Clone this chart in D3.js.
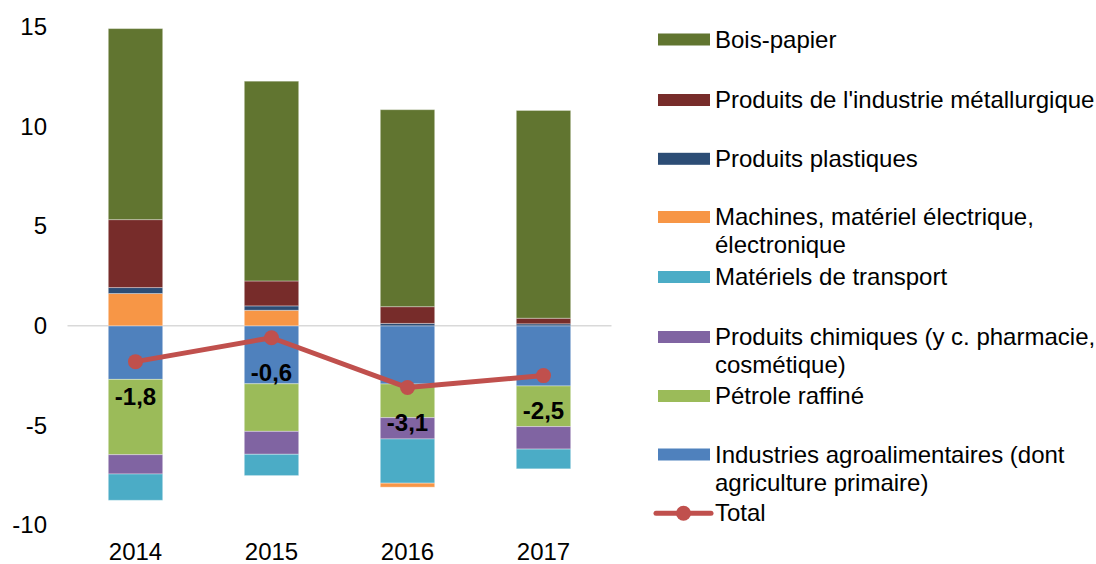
<!DOCTYPE html>
<html>
<head>
<meta charset="utf-8">
<script src="https://cdn.jsdelivr.net/npm/d3@7"></script>
<style>
  html, body { margin: 0; padding: 0; background: #fff; }
  svg { display: block; font-family: "Liberation Sans", Arial, sans-serif; }
</style>
</head>
<body>
<svg id="chart" width="1096" height="564"></svg>
<script>
// ---- Data ----
const years = ["2014", "2015", "2016", "2017"];
const seriesNames = [
  "Industries agroalimentaires (dont agriculture primaire)",
  "Pétrole raffiné",
  "Produits chimiques (y c. pharmacie, cosmétique)",
  "Matériels de transport",
  "Machines, matériel électrique, électronique",
  "Produits plastiques",
  "Produits de l'industrie métallurgique",
  "Bois-papier"
];
const agro        = [-2.69, -2.91, -2.92, -3.02];
const petrole     = [-3.78, -2.39, -1.69, -2.04];
const chimiques   = [-0.97, -1.15, -1.07, -1.13];
const transport   = [-1.32, -1.07, -2.22, -0.99];
const machines    = [1.62, 0.78, -0.20, 0.00];
const plastiques  = [0.30, 0.22, 0.12, 0.10];
const metallurgie = [3.41, 1.25, 0.84, 0.28];
const boisPapier  = [9.59, 10.03, 9.89, 10.43];
const total       = [-1.8, -0.6, -3.1, -2.5];
const yTicks      = [-10, -5, 0, 5, 10, 15];

// legend (top to bottom) with wrapped labels
const legendItems = [
  { key: "Bois-papier", lines: ["Bois-papier"] },
  { key: "Produits de l'industrie métallurgique", lines: ["Produits de l'industrie métallurgique"] },
  { key: "Produits plastiques", lines: ["Produits plastiques"] },
  { key: "Machines, matériel électrique, électronique", lines: ["Machines, matériel électrique,", "électronique"] },
  { key: "Matériels de transport", lines: ["Matériels de transport"] },
  { key: "Produits chimiques (y c. pharmacie, cosmétique)", lines: ["Produits chimiques (y c. pharmacie,", "cosmétique)"] },
  { key: "Pétrole raffiné", lines: ["Pétrole raffiné"] },
  { key: "Industries agroalimentaires (dont agriculture primaire)", lines: ["Industries agroalimentaires (dont", "agriculture primaire)"] },
  { key: "Total", lines: ["Total"] }
];

const colors = {
  "Industries agroalimentaires (dont agriculture primaire)": "#4f81bd",
  "Pétrole raffiné": "#9bbb59",
  "Produits chimiques (y c. pharmacie, cosmétique)": "#8064a2",
  "Matériels de transport": "#4bacc6",
  "Machines, matériel électrique, électronique": "#f79646",
  "Produits plastiques": "#2c4d75",
  "Produits de l'industrie métallurgique": "#772c2a",
  "Bois-papier": "#617530",
  "Total": "#c0504d"
};

const FS = 24;
const seriesValues = [agro, petrole, chimiques, transport, machines, plastiques, metallurgie, boisPapier];
const table = years.map((y, i) => {
  const row = { year: y };
  seriesNames.forEach((n, j) => row[n] = seriesValues[j][i]);
  return row;
});

// ---- Scales ----
const svg = d3.select("#chart");
const x = d3.scaleBand().domain(years).range([67.5, 611.5]).paddingInner(0.6).paddingOuter(0.3);
const y = d3.scaleLinear().domain([-10, 15]).range([525, 27]);

// Zero line
svg.append("line")
  .attr("x1", 67.5).attr("x2", 611.5)
  .attr("y1", y(0)).attr("y2", y(0))
  .attr("stroke", "#d9d9d9").attr("stroke-width", 1.5);

// Y axis (labels only)
const yAxis = d3.axisLeft(y).tickValues(yTicks).tickSize(0).tickPadding(0)
  .tickFormat(d => String(d));
const gy = svg.append("g").attr("transform", "translate(47,0)").call(yAxis);
gy.select(".domain").remove();
gy.selectAll("text").attr("font-size", FS).attr("fill", "#000")
  .attr("font-family", "Liberation Sans, Arial, sans-serif");

// X axis (labels only)
const xAxis = d3.axisBottom(x).tickSize(0).tickPadding(0);
const gx = svg.append("g").call(xAxis);
gx.select(".domain").remove();
gx.selectAll("text").attr("font-size", FS).attr("fill", "#000")
  .attr("dy", null).attr("y", 560)
  .attr("font-family", "Liberation Sans, Arial, sans-serif");

// Stacked bars
const stack = d3.stack().keys(seriesNames).offset(d3.stackOffsetDiverging);
const stacked = stack(table);
svg.append("g").selectAll("g")
  .data(stacked).join("g")
  .attr("fill", d => colors[d.key])
  .selectAll("rect")
  .data(d => d).join("rect")
  .attr("x", d => x(d.data.year))
  .attr("width", x.bandwidth())
  .attr("y", d => y(Math.max(d[0], d[1])))
  .attr("height", d => Math.abs(y(d[0]) - y(d[1])))
  .attr("stroke", "rgba(255,255,255,0.35)")
  .attr("stroke-width", 1);

// Total line
const line = d3.line().x((d, i) => x(years[i]) + x.bandwidth() / 2).y(d => y(d));
svg.append("path").datum(total)
  .attr("d", line)
  .attr("fill", "none")
  .attr("stroke", colors.Total)
  .attr("stroke-width", 5)
  .attr("stroke-linejoin", "round");
svg.append("g").selectAll("circle")
  .data(total).join("circle")
  .attr("cx", (d, i) => x(years[i]) + x.bandwidth() / 2)
  .attr("cy", d => y(d))
  .attr("r", 7.5)
  .attr("fill", colors.Total);

// Data labels
const fmt = d => d3.format(".1f")(d).replace(".", ",").replace("−", "-");
svg.append("g").selectAll("text")
  .data(total).join("text")
  .attr("x", (d, i) => x(years[i]) + x.bandwidth() / 2)
  .attr("y", d => y(d) + 35)
  .attr("dy", "0.35em")
  .attr("text-anchor", "middle")
  .attr("font-size", FS)
  .attr("font-weight", "bold")
  .attr("fill", "#000")
  .text(d => fmt(d));

// Legend
const legendRowY = [39.5, 100, 158.8, 217, 277, 337, 396, 454.5, 513.3];
const lg = svg.append("g");
legendItems.forEach((item, i) => {
  const cy = legendRowY[i];
  const g = lg.append("g");
  if (item.key === "Total") {
    g.append("line").attr("x1", 656).attr("x2", 711).attr("y1", cy).attr("y2", cy)
      .attr("stroke", colors.Total).attr("stroke-width", 5).attr("stroke-linecap", "round");
    g.append("circle").attr("cx", 683.5).attr("cy", cy).attr("r", 7.5).attr("fill", colors.Total);
  } else {
    g.append("rect").attr("x", 658).attr("y", cy - 6).attr("width", 52).attr("height", 12)
      .attr("fill", colors[item.key]);
  }
  item.lines.forEach((t, k) => {
    g.append("text").attr("x", 715).attr("y", cy + 8 + k * 28)
      .attr("font-size", FS).attr("fill", "#000").text(t);
  });
});
</script>
</body>
</html>
